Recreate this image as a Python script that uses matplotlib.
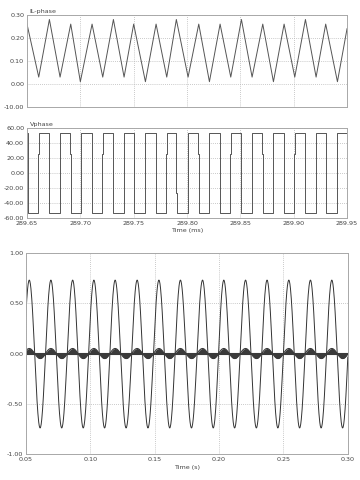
import numpy as np
import matplotlib.pyplot as plt

# Дані верхнього графіка: вершини трикутного струму IL-phase
il_t = [289.650, 289.661, 289.671, 289.681, 289.691, 289.700, 289.711, 289.721,
        289.731, 289.741, 289.750, 289.761, 289.771, 289.781, 289.790, 289.801,
        289.811, 289.821, 289.831, 289.841, 289.851, 289.861, 289.871, 289.881,
        289.891, 289.901, 289.911, 289.921, 289.930, 289.941, 289.950]
il_v = [0.26, 0.03, 0.28, 0.03, 0.26, 0.01, 0.26, 0.03,
        0.28, 0.03, 0.26, 0.01, 0.26, 0.03, 0.28, 0.03,
        0.26, 0.01, 0.26, 0.03, 0.28, 0.03, 0.26, 0.01,
        0.26, 0.03, 0.28, 0.03, 0.26, 0.01, 0.24]

# Дані середнього графіка: моменти перемикання напруги Vphase
v_fall = [289.6505, 289.6705, 289.6905, 289.7105, 289.7305, 289.7500, 289.7705, 289.7900,
          289.8105, 289.8305, 289.8505, 289.8705, 289.8905, 289.9105, 289.9300, 289.9500]
v_rise = [289.6605, 289.6805, 289.7005, 289.7205, 289.7405, 289.7605, 289.7805, 289.8005,
          289.8205, 289.8405, 289.8605, 289.8805, 289.9005, 289.9205, 289.9405]
v_fall_mid = [-27, 0, 25, 0, -27, 25, 0, -27, 25, 0, -27, 25, 0, 25, -27, 0]
v_rise_mid = [25, -25, 0, 25, -25, 0, 25, -25, 0, 25, -25, 0, 25, -25, 0]
v_high = 53
v_low = -53

# Дані нижнього графіка: екстремуми синусоїди
peak_t = [0.0526, 0.0694, 0.0863, 0.1028, 0.1193, 0.1364, 0.1533, 0.1700,
          0.1872, 0.2037, 0.2206, 0.2373, 0.2542, 0.2710, 0.2876, 0.3043]
trough_t = [0.0443, 0.0610, 0.0778, 0.0945, 0.1111, 0.1278, 0.1448, 0.1617,
            0.1786, 0.1955, 0.2121, 0.2290, 0.2457, 0.2626, 0.2793, 0.2960]
peak_v = 0.73
trough_v = -0.74
ripple_v = 0.05

il_ticks = [0.30, 0.20, 0.10, 0.00, -0.10]
il_labels = ['0.30', '0.20', '0.10', '0.00', '-10.00']
v_ticks = [60, 40, 20, 0, -20, -40, -60]
v_labels = ['60.00', '40.00', '20.00', '0.00', '-20.00', '-40.00', '-60.00']
ms_ticks = [289.65, 289.70, 289.75, 289.80, 289.85, 289.90, 289.95]
s_ticks = [0.05, 0.10, 0.15, 0.20, 0.25, 0.30]
y3_ticks = [1.0, 0.5, 0.0, -0.5, -1.0]

fs = 4.6
tc = '#444444'
gc = '#b8b8b8'


def style(ax):
    for s in ax.spines.values():
        s.set_color('#a8a8a8')
        s.set_linewidth(0.7)
    ax.tick_params(length=0, labelsize=fs, colors=tc, pad=2)
    ax.grid(True, linestyle=(0, (1, 1.5)), color=gc, linewidth=0.6)


def cos_curve(ext_t, ext_v, n=40):
    # з'єднання екстремумів півхвилями косинуса
    xs, ys = [], []
    for i in range(len(ext_t) - 1):
        t0, t1 = ext_t[i], ext_t[i + 1]
        a, b = ext_v[i], ext_v[i + 1]
        u = np.linspace(0, 1, n)
        xs.append(t0 + (t1 - t0) * u)
        ys.append((a + b) / 2 + (a - b) / 2 * np.cos(np.pi * u))
    return np.concatenate(xs), np.concatenate(ys)


fig = plt.figure(figsize=(3.6, 4.8), dpi=100)

# Верхній графік
ax1 = fig.add_axes([0.075, 0.777, 0.889, 0.192])
ax1.plot(il_t, il_v, color='#555555', linewidth=0.7)
ax1.set_xlim(289.65, 289.95)
ax1.set_ylim(-0.10, 0.30)
ax1.set_yticks(il_ticks)
ax1.set_yticklabels(il_labels)
ax1.set_xticks(ms_ticks)
ax1.set_xticklabels([])
style(ax1)
ax1.text(0.008, 1.01, 'IL-phase', transform=ax1.transAxes, fontsize=fs, color=tc, va='bottom')

# Середній графік
vt = [289.65]
vv = [v_high]
for i in range(len(v_fall)):
    vt += [v_fall[i], v_fall[i] + 0.0004]
    vv += [v_fall_mid[i], v_low]
    if i < len(v_rise):
        vt += [v_rise[i], v_rise[i] + 0.0004]
        vv += [v_rise_mid[i], v_high]
ax2 = fig.add_axes([0.075, 0.546, 0.889, 0.1875])
ax2.step(vt, vv, where='post', color='#555555', linewidth=0.7)
ax2.set_xlim(289.65, 289.95)
ax2.set_ylim(-60, 60)
ax2.set_yticks(v_ticks)
ax2.set_yticklabels(v_labels)
ax2.set_xticks(ms_ticks)
ax2.set_xticklabels(['%.2f' % t for t in ms_ticks])
style(ax2)
ax2.text(0.008, 1.01, 'Vphase', transform=ax2.transAxes, fontsize=fs, color=tc, va='bottom')
ax2.set_xlabel('Time (ms)', fontsize=fs, color=tc, labelpad=2)

# Нижній графік
ext = sorted([(t, peak_v) for t in peak_t] + [(t, trough_v) for t in trough_t])
x_big, y_big = cos_curve([e[0] for e in ext], [e[1] for e in ext])
ext_r = [(t, ripple_v) for t in peak_t] + [(t, -ripple_v) for t in trough_t]
ext_r = sorted(ext_r)
x_r, y_r = cos_curve([e[0] for e in ext_r], [e[1] for e in ext_r])

ax3 = fig.add_axes([0.072, 0.054, 0.894, 0.419])
ax3.plot(x_big, y_big, color='#333333', linewidth=0.7)
ax3.fill_between(x_r, 0, y_r, color='#3a3a3a', linewidth=0)
ax3.plot(x_r, y_r, color='#3a3a3a', linewidth=0.8)
ax3.axhline(0, color='#3a3a3a', linewidth=1.5)
ax3.set_xlim(0.05, 0.30)
ax3.set_ylim(-1.0, 1.0)
ax3.set_yticks(y3_ticks)
ax3.set_yticklabels(['%.2f' % v for v in y3_ticks])
ax3.set_xticks(s_ticks)
ax3.set_xticklabels(['%.2f' % t for t in s_ticks])
style(ax3)
ax3.set_xlabel('Time (s)', fontsize=fs, color=tc, labelpad=2)

plt.savefig('out.png', dpi=100)
